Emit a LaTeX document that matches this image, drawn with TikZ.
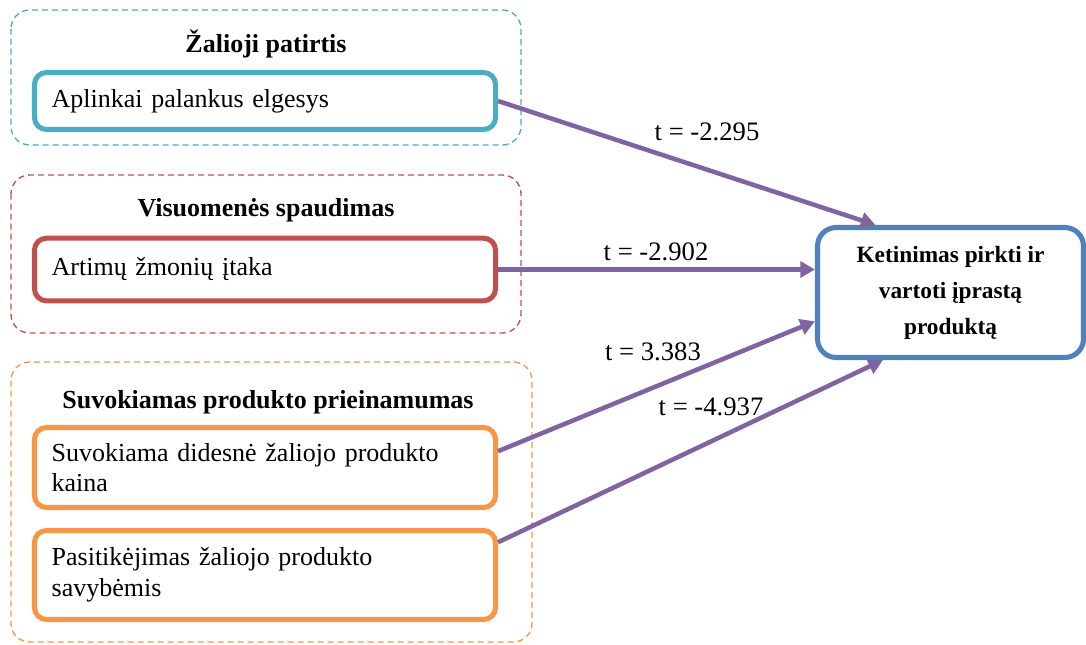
\documentclass[tikz,border=0pt]{standalone}
\usepackage{fontspec}
\setmainfont{Liberation Serif}
\usetikzlibrary{arrows.meta}

\definecolor{cteal}{HTML}{4BACC6}
\definecolor{cred}{HTML}{C0504D}
\definecolor{corange}{HTML}{F79646}
\definecolor{cblue}{HTML}{4F81BD}
\definecolor{cpurple}{HTML}{8064A2}

\tikzset{
  grp/.style={dash pattern=on 4.5pt off 3pt, line width=1pt, rounded corners=14pt},
  grptitle/.style={font=\fontsize{19.5}{23}\selectfont\bfseries},
  item/.style={draw, line width=3.8pt, rounded corners=9pt, fill=white,
    text width=320pt, inner xsep=12.9pt, align=left,
    font=\fontsize{19.5}{23}\selectfont},
  effect/.style={cpurple, line width=3.4pt, -{Triangle[length=11pt, width=12pt]}},
  tlabel/.style={font=\fontsize{20}{22}\selectfont}
}

\begin{document}
\begin{tikzpicture}[x=0.75pt, y=-0.75pt]
\useasboundingbox (0,0) rectangle (1086,644);

% group frames
\draw[grp, cteal] (11,10) rectangle (521,145);
\draw[grp, cred] (11,175) rectangle (521,333);
\draw[grp, corange] (11,362) rectangle (532,642);

\node[grptitle] (t1) at (266,44) {Žalioji patirtis};
\node[grptitle] (t2) at (266,210) {Visuomenės spaudimas};
\node[grptitle] (t3) at (268,402) {Suvokiamas produkto prieinamumas};

% factors
\node[item, draw=cteal, minimum height=42.75pt] (s1) at (265,101) {Aplinkai palankus elgesys};
\node[item, draw=cred, minimum height=47pt] (s2) at (265,269.5) {Artimų žmonių įtaka};
\node[item, draw=corange, minimum height=60pt] (s3) at (265,467.5) {Suvokiama didesnė žaliojo produkto\\kaina};
\node[item, draw=corange, minimum height=66.75pt] (s4) at (265,575) {Pasitikėjimas žaliojo produkto\\savybėmis};

% outcome
\node[draw=cblue, line width=3.8pt, rounded corners=14pt, fill=white,
  minimum width=199.5pt, minimum height=97.5pt, align=center,
  font=\fontsize{17.5}{27}\selectfont\bfseries] (y) at (950.5,292.5)
  {Ketinimas pirkti ir\\vartoti įprastą\\produktą};

% effects
\draw[effect] (s1.east) -- (y.138);
\draw[effect] (s2.east) -- (s2.east -| y.west);
\draw[effect] (s3.4) -- (y.192.5);
\draw[effect] (s4.8.5) -- (y.225);

\node[tlabel] (l1) at (707,132) {t = -2.295};
\node[tlabel] (l2) at (656,252) {t = -2.902};
\node[tlabel] (l3) at (653,352) {t = 3.383};
\node[tlabel] (l4) at (711,407) {t = -4.937};

\end{tikzpicture}
\end{document}
